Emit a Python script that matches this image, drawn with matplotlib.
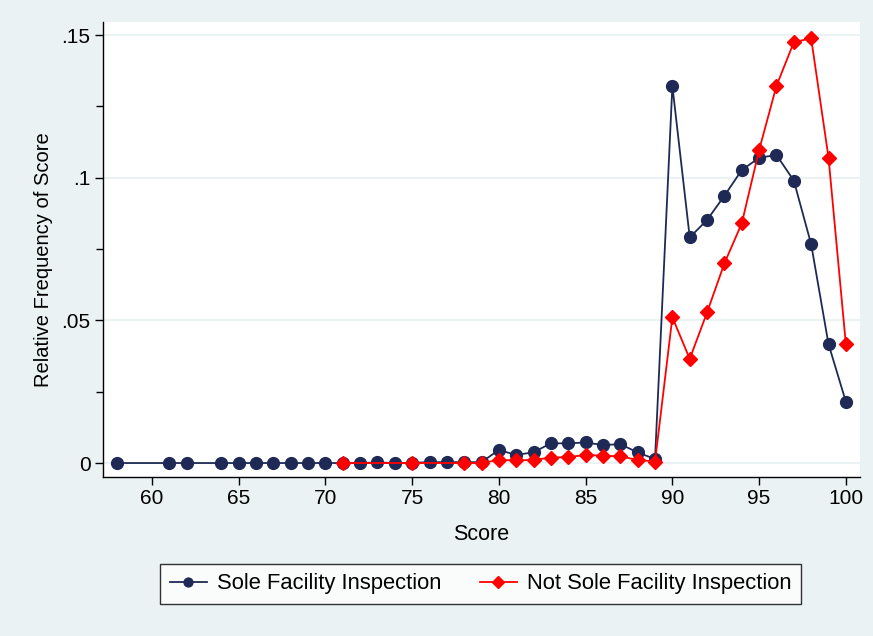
import matplotlib
matplotlib.use("Agg")
import matplotlib.pyplot as plt

plt.rcParams['font.family'] = ['Liberation Sans', 'DejaVu Sans']

# ================= Data =================
sole_score = [58, 61, 62, 64, 65, 66, 67, 68, 69, 70, 71, 72, 73, 74, 75, 76, 77, 78, 79,
              80, 81, 82, 83, 84, 85, 86, 87, 88, 89,
              90, 91, 92, 93, 94, 95, 96, 97, 98, 99, 100]
sole_freq = [0.0, 0.0, 0.0, 0.0, 0.0, 0.0, 0.0, 0.0, 0.0, 0.0, 0.0, 0.0, 0.0002, 0.0, 0.0001,
             0.0003, 0.0003, 0.0003, 0.0003,
             0.0046, 0.0028, 0.0038, 0.0069, 0.0069, 0.0072, 0.0063, 0.0066, 0.0037, 0.0014,
             0.1322, 0.0791, 0.0852, 0.0937, 0.1027, 0.1070, 0.1080, 0.0990, 0.0767, 0.0417, 0.0215]

not_sole_score = [71, 75, 78, 79, 80, 81, 82, 83, 84, 85, 86, 87, 88, 89,
                  90, 91, 92, 93, 94, 95, 96, 97, 98, 99, 100]
not_sole_freq = [0.0, 0.0, 0.0, 0.0, 0.0011, 0.0009, 0.0011, 0.0019, 0.0021, 0.0028, 0.0026,
                 0.0023, 0.0011, 0.0005,
                 0.0511, 0.0365, 0.0528, 0.0700, 0.0840, 0.1097, 0.1322, 0.1475, 0.1489,
                 0.1071, 0.0417]

x_ticks = [60, 65, 70, 75, 80, 85, 90, 95, 100]
y_ticks = [0, 0.05, 0.1, 0.15]
y_tick_labels = ['0', '.05', '.1', '.15']
# =======================================

BG = '#EAF2F3'
NAVY = '#1E2A55'
RED = '#FF0000'

fig = plt.figure(figsize=(8.73, 6.36), dpi=100, facecolor=BG)
ax = fig.add_axes([0.118, 0.25, 0.867, 0.7154])
ax.set_facecolor('white')

ax.grid(axis='y', color=BG, linewidth=1.5, zorder=0)
ax.set_axisbelow(True)

ax.plot(sole_score, sole_freq, color=NAVY, marker='o', markersize=8.5, linewidth=1.3,
        label='Sole Facility Inspection', zorder=3)
ax.plot(not_sole_score, not_sole_freq, color=RED, marker='D', markersize=7.5, linewidth=1.3,
        label='Not Sole Facility Inspection', zorder=4)

ax.set_xlim(57.18, 100.81)
ax.set_ylim(-0.0049, 0.1546)
ax.set_xticks(x_ticks)
ax.set_yticks(y_ticks)
ax.set_yticklabels(y_tick_labels)
ax.set_yticks([0.025, 0.075, 0.125], minor=True)
ax.tick_params(axis='both', which='major', direction='out', length=6, width=1,
               labelsize=15, colors='black', pad=3)
ax.tick_params(axis='y', which='minor', direction='out', length=5, width=1)

for side in ['top', 'right']:
    ax.spines[side].set_visible(False)
for side in ['left', 'bottom']:
    ax.spines[side].set_linewidth(1)

ax.set_xlabel('Score', fontsize=15.5, labelpad=11)
ax.set_ylabel('Relative Frequency of Score', fontsize=14.5)
ax.yaxis.set_label_coords(-0.066, 0.477)

leg = fig.legend(loc='center', bbox_to_anchor=(0.5504, 0.0818), ncol=2, frameon=True,
                 fancybox=False, edgecolor='black', fontsize=15.8, handlelength=1.7,
                 columnspacing=1.75, borderpad=0.45, handletextpad=0.45, markerscale=0.75)
leg.get_frame().set_linewidth(1)

fig.savefig('out.png', dpi=100, facecolor=BG)
